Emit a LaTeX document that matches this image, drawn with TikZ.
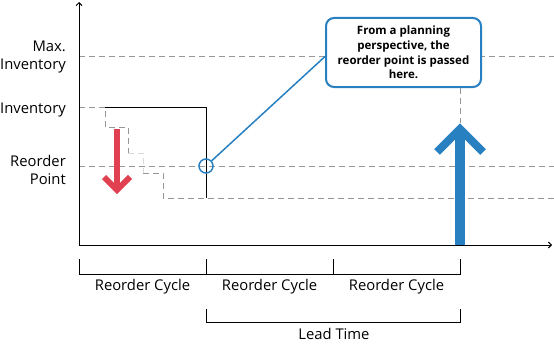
\documentclass[tikz,border=0pt]{standalone}
\usepackage{fontspec}
\setmainfont{Open Sans}
\usetikzlibrary{arrows.meta}
\definecolor{planblue}{RGB}{41,128,193}
\definecolor{usered}{RGB}{224,64,80}
\definecolor{guidegray}{RGB}{150,150,150}

\begin{document}
\begin{tikzpicture}[x=1pt,y=-1pt,font=\fontsize{14.8}{18.5}\selectfont,every node/.style={inner sep=0pt},
  guide/.style={draw=guidegray,dash pattern=on 6pt off 4pt,line width=0.9pt},
  faint/.style={draw=black!15,dash pattern=on 6pt off 4pt,line width=0.9pt},
  axis/.style={draw=black,line width=1pt,-{Straight Barb[length=3pt,width=6pt]}},
  bracket/.style={draw=black,line width=0.8pt},
  lbl/.style={anchor=east,align=right}]
  \useasboundingbox (0,0) rectangle (554,345);
  \node[lbl] (maxinv) at (66,57) {Max.\\Inventory};
  \node[lbl,anchor=base east] (inv) at (66,113) {Inventory};
  \node[lbl] (reorder) at (66,170) {Reorder\\Point};
  \draw[guide] (79,56) -- (554,56);
  \draw[guide] (79,166) -- (554,166);
  \draw[guide] (79,107) -- (105,107) -- (105,127) -- (128,127) -- (128,153);
  \draw[faint] (128,153) -- (143,153) -- (143,173);
  \draw[guide] (143,173) -- (163,173) -- (163,198) -- (554,198);
  \draw[black,line width=0.9pt] (105,107) -- (206,107) -- (206,198);
  \coordinate (o) at (79,245);
  \draw[axis] (o) -- (79,2);
  \draw[axis] (o) -- (552,245);
  \draw[usered,line width=6pt] (117,129) -- (117,187);
  \draw[usered,line width=6pt] (104,177) -- (117,190) -- (130,177);
  \draw[planblue,line width=10pt] (460,245) -- (460,132);
  \draw[planblue,line width=8pt] (437,152) -- (460,129) -- (483,152);
  \node[draw=planblue,line width=2pt,rounded corners=8pt,fill=white,minimum width=155pt,minimum height=69pt,align=center,
    font=\fontsize{11.5}{14.6}\selectfont\bfseries] (callout) at (403.5,52.5)
    {From a planning\\perspective, the\\reorder point is passed\\here.};
  \node[circle,draw=planblue,line width=1.5pt,minimum size=14pt] (passpt) at (206,166) {};
  \draw[planblue,line width=1.5pt] (passpt) -- ([yshift=-4pt]callout.west);
  \coordinate (uptip) at (460,123);
  \draw[guide] (callout.south -| uptip) -- (uptip);
  \draw[bracket] (79,259) -- (79,274) -- (460,274) -- (460,259);
  \draw[bracket] (206,259) -- (206,274);
  \draw[bracket] (333,259) -- (333,274);
  \node[anchor=base] (cycle1) at (142.5,290.7) {Reorder Cycle};
  \node[anchor=base] (cycle2) at (269.5,290.7) {Reorder Cycle};
  \node[anchor=base] (cycle3) at (396.5,290.7) {Reorder Cycle};
  \draw[bracket] (206,309) -- (206,322) -- (460,322) -- (460,309);
  \node[anchor=base] (lead) at (334,339) {Lead Time};
\end{tikzpicture}
\end{document}
